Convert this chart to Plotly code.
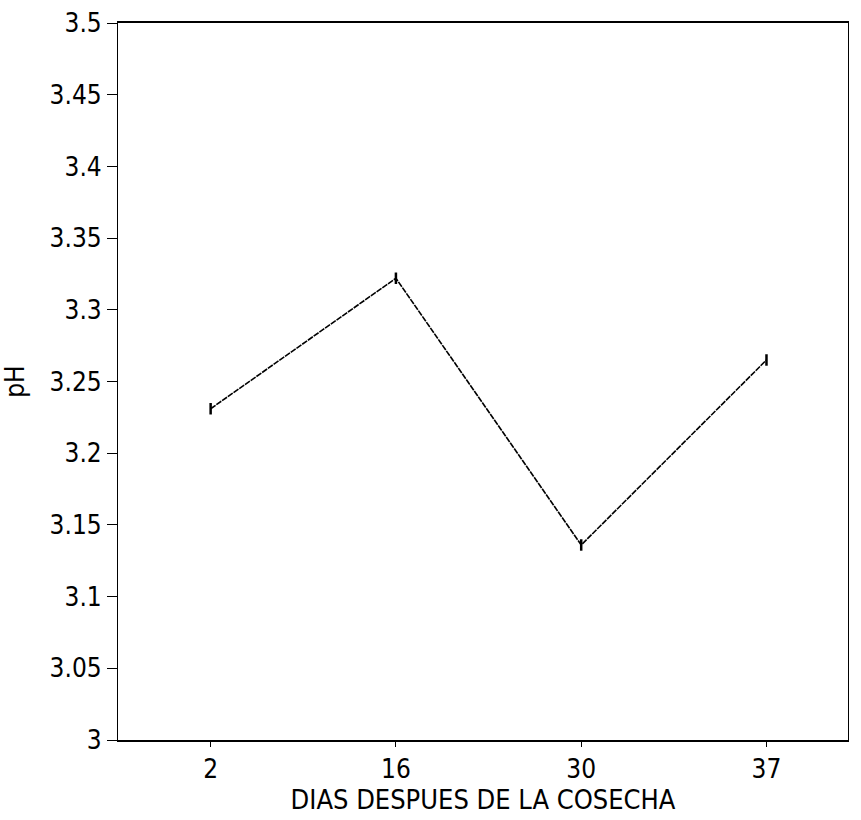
import plotly.graph_objects as go

dias = ["2", "16", "30", "37"]
ph = [3.231, 3.322, 3.136, 3.265]
err = [0.004, 0.004, 0.004, 0.004]
y_ticks = [3, 3.05, 3.1, 3.15, 3.2, 3.25, 3.3, 3.35, 3.4, 3.45, 3.5]
y_labels = ["3", "3.05", "3.1", "3.15", "3.2", "3.25", "3.3", "3.35", "3.4", "3.45", "3.5"]

fig = go.Figure()
fig.add_trace(go.Scatter(
    x=dias, y=ph, mode="lines",
    line=dict(color="black", width=1.6, dash="6px,1px"),
    error_y=dict(type="data", array=err, visible=True, color="black", thickness=2.5, width=0),
    showlegend=False,
))

font = dict(family="DejaVu Sans Condensed, Liberation Sans Narrow, Arial Narrow, sans-serif", size=26, color="black")
fig.update_layout(
    width=861, height=820,
    margin=dict(l=118, r=13, t=23, b=80),
    paper_bgcolor="white", plot_bgcolor="white",
    font=font,
    xaxis=dict(
        type="category", range=[-0.5, 3.44], automargin=False,
        showline=True, linecolor="black", linewidth=1.5, mirror=True,
        ticks="outside", ticklen=5, tickcolor="black",
        showgrid=False, zeroline=False,
        title=dict(text="DIAS DESPUES DE LA COSECHA", standoff=2, font=dict(size=27)),
        tickfont=font,
    ),
    yaxis=dict(
        range=[3, 3.5], tickvals=y_ticks, ticktext=y_labels, automargin=False,
        showline=True, linecolor="black", linewidth=1.2, mirror=True,
        ticks="outside", ticklen=10, tickcolor="black",
        showgrid=False, zeroline=False,
        title=dict(text="pH", standoff=22, font=font),
        tickfont=font,
    ),
)

fig.write_html("out.html")
